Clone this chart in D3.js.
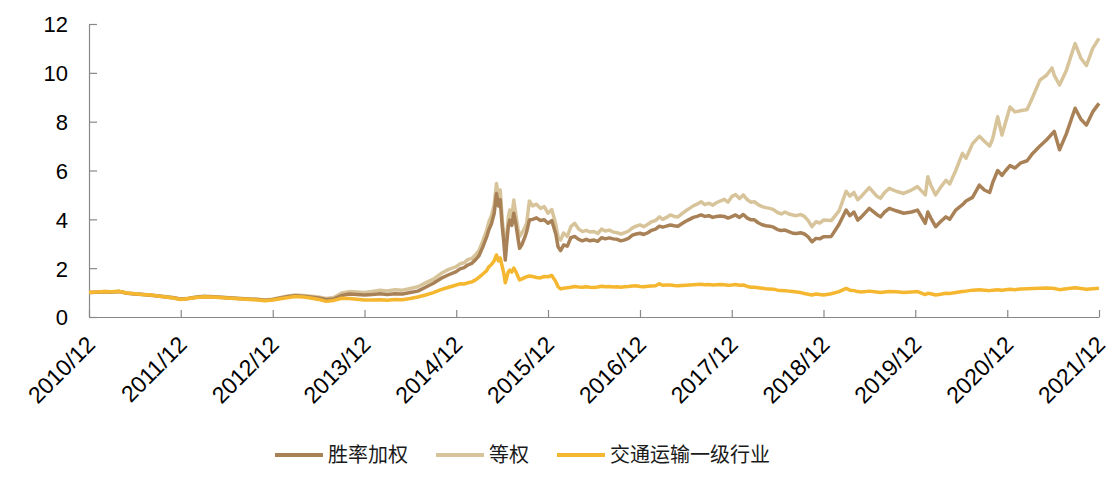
<!DOCTYPE html>
<meta charset="utf-8">

<head>
  <title>胜率加权 / 等权 / 交通运输一级行业</title>
  <script src="https://cdn.jsdelivr.net/npm/d3@7"></script>
</head>

<style>
  body { margin: 0; background: #fff; }
  .axis text { font-family: "Liberation Sans", Arial, sans-serif; font-size: 22px; fill: #000; }
  .x-axis text { font-size: 23px; }
  .legend text { font-family: "Noto Sans CJK SC", sans-serif; font-size: 20px; fill: #1a1a1a; }
</style>

<body>
  <svg width="1116" height="477"></svg>

  <script>
    // dates of the sampled points
    var dates = [
      '2010-12-01', '2011-01-01', '2011-02-01', '2011-03-01', '2011-04-01', '2011-05-01', '2011-06-01', '2011-07-01', '2011-08-01', '2011-09-01', '2011-10-01', '2011-11-01',
      '2011-12-01', '2012-01-01', '2012-02-01', '2012-03-01', '2012-04-01', '2012-05-01', '2012-06-01', '2012-07-01', '2012-08-01', '2012-09-01', '2012-10-01', '2012-11-01',
      '2012-12-01', '2013-01-01', '2013-02-01', '2013-03-01', '2013-04-01', '2013-05-01', '2013-06-01', '2013-07-01', '2013-08-01', '2013-09-01', '2013-10-01', '2013-11-01',
      '2013-12-01', '2014-01-01', '2014-02-01', '2014-03-01', '2014-04-01', '2014-05-01', '2014-06-01', '2014-07-01', '2014-08-01', '2014-09-01', '2014-10-01', '2014-11-01',
      '2014-12-01', '2014-12-16', '2015-01-01', '2015-01-16', '2015-02-01', '2015-02-16', '2015-03-01', '2015-03-16', '2015-04-01', '2015-04-10', '2015-04-20',
      '2015-05-01', '2015-05-10', '2015-05-18', '2015-05-25', '2015-06-02', '2015-06-08', '2015-06-14', '2015-06-20', '2015-06-26',
      '2015-07-02', '2015-07-10', '2015-07-18', '2015-07-26', '2015-08-04', '2015-08-10', '2015-08-20', '2015-09-01', '2015-09-07', '2015-09-18',
      '2015-10-01', '2015-10-16', '2015-11-01', '2015-11-16', '2015-12-01', '2015-12-16', '2016-01-01', '2016-01-10', '2016-01-20',
      '2016-02-01', '2016-02-16', '2016-03-01', '2016-03-16', '2016-04-01', '2016-04-16',
      '2016-05-01', '2016-05-16', '2016-06-01', '2016-06-16', '2016-07-01', '2016-07-16', '2016-08-01', '2016-08-16', '2016-09-01', '2016-09-16', '2016-10-01', '2016-10-16', '2016-11-01', '2016-11-16',
      '2016-12-01', '2016-12-16', '2017-01-01', '2017-01-16', '2017-02-01', '2017-02-16', '2017-03-01', '2017-03-16', '2017-04-01', '2017-04-16', '2017-05-01', '2017-05-16',
      '2017-06-01', '2017-06-16', '2017-07-01', '2017-07-16', '2017-08-01', '2017-08-16', '2017-09-01', '2017-09-16', '2017-10-01', '2017-10-16', '2017-11-01', '2017-11-16',
      '2017-12-01', '2017-12-16', '2018-01-01', '2018-01-16', '2018-02-01', '2018-02-16', '2018-03-01', '2018-03-16', '2018-04-01', '2018-04-16', '2018-05-01', '2018-05-16',
      '2018-06-01', '2018-06-16', '2018-07-01', '2018-07-16', '2018-08-01', '2018-08-16', '2018-09-01', '2018-09-16', '2018-10-01', '2018-10-16', '2018-11-01', '2018-11-16',
      '2018-12-01', '2019-01-01', '2019-02-01', '2019-03-01', '2019-03-16', '2019-04-01', '2019-04-16', '2019-05-01', '2019-06-01', '2019-07-01', '2019-07-16', '2019-08-01',
      '2019-08-20', '2019-09-16', '2019-10-16', '2019-11-16', '2019-12-10', '2020-01-10', '2020-01-20', '2020-02-01', '2020-02-20', '2020-03-10', '2020-04-01', '2020-04-16',
      '2020-05-10', '2020-06-06', '2020-06-20', '2020-07-16', '2020-08-12', '2020-09-01', '2020-09-22', '2020-10-04', '2020-10-24', '2020-11-10', '2020-11-25',
      '2020-12-12', '2021-01-01', '2021-01-22', '2021-02-18', '2021-03-12', '2021-04-10', '2021-05-06', '2021-05-28', '2021-06-06', '2021-06-27', '2021-07-24',
      '2021-08-28', '2021-09-20', '2021-10-12', '2021-11-06', '2021-12-01'
    ];

    // 等权
    var equalWeight = [
      1.00, 1.02, 1.04, 1.02, 1.05, 0.98, 0.95, 0.93, 0.90, 0.87, 0.84, 0.80,
      0.74, 0.77, 0.82, 0.85, 0.84, 0.82, 0.80, 0.78, 0.76, 0.74, 0.73, 0.70,
      0.73, 0.80, 0.86, 0.90, 0.88, 0.85, 0.82, 0.76, 0.80, 0.98, 1.04, 1.02,
      1.00, 1.05, 1.10, 1.07, 1.12, 1.10, 1.17, 1.24, 1.40, 1.55, 1.78, 1.95,
      2.06, 2.18, 2.22, 2.35, 2.40, 2.55, 2.72, 3.10, 3.55, 3.90, 4.15,
      4.60, 5.47, 4.90, 5.20, 3.97, 3.40, 2.47, 3.30, 4.10,
      4.38, 4.10, 4.79, 4.20, 3.60, 3.29, 3.45, 3.70, 3.84, 4.75,
      4.55, 4.62, 4.45, 4.52, 4.25, 4.40, 3.80, 3.29, 3.15,
      3.44, 3.30, 3.70, 3.84, 3.60, 3.50,
      3.55, 3.48, 3.50, 3.42, 3.60, 3.52, 3.56, 3.48, 3.45, 3.40, 3.45, 3.52, 3.65, 3.72,
      3.77, 3.70, 3.80, 3.90, 3.95, 4.10, 4.00, 4.08, 4.18, 4.12, 4.10, 4.22,
      4.35, 4.45, 4.55, 4.62, 4.72, 4.60, 4.66, 4.58, 4.68, 4.75, 4.82, 4.70,
      4.93, 5.02, 4.85, 5.00, 4.80, 4.70, 4.72, 4.60, 4.52, 4.48, 4.45, 4.40,
      4.28, 4.22, 4.30, 4.22, 4.18, 4.15, 4.20, 4.12, 3.95, 3.70, 3.90, 3.85,
      3.97, 3.95, 4.35, 5.15, 4.95, 5.10, 4.80, 4.95, 5.30, 4.95, 4.86, 5.10,
      5.27, 5.15, 5.06, 5.20, 5.34, 5.00, 5.74, 5.40, 5.00, 5.30, 5.60, 5.45,
      6.00, 6.70, 6.50, 7.10, 7.40, 7.20, 7.00, 7.30, 8.20, 7.45, 8.00,
      8.60, 8.40, 8.45, 8.50, 9.00, 9.70, 9.90, 10.20, 9.90, 9.50, 10.10,
      11.20, 10.60, 10.30, 11.00, 11.41
    ];

    // 胜率加权
    var winRateWeight = [
      1.00, 1.01, 1.03, 1.02, 1.04, 0.97, 0.94, 0.92, 0.89, 0.86, 0.82, 0.79,
      0.73, 0.76, 0.81, 0.84, 0.83, 0.81, 0.79, 0.77, 0.75, 0.73, 0.72, 0.69,
      0.72, 0.78, 0.84, 0.87, 0.85, 0.82, 0.78, 0.72, 0.74, 0.88, 0.94, 0.92,
      0.90, 0.92, 0.95, 0.92, 0.95, 0.94, 1.00, 1.06, 1.22, 1.38, 1.58, 1.73,
      1.86, 1.97, 2.02, 2.13, 2.20, 2.35, 2.50, 2.85, 3.28, 3.58, 3.82,
      4.25, 5.06, 4.55, 4.80, 3.70, 3.10, 2.33, 3.05, 3.70,
      3.97, 3.75, 4.25, 3.82, 3.20, 2.81, 2.98, 3.30, 3.49, 3.97,
      4.00, 4.06, 3.95, 3.98, 3.84, 3.95, 3.40, 2.88, 2.72,
      2.95, 2.90, 3.25, 3.30, 3.18, 3.12,
      3.18, 3.12, 3.15, 3.10, 3.25, 3.20, 3.24, 3.20, 3.18, 3.12, 3.16, 3.22, 3.35, 3.40,
      3.43, 3.38, 3.45, 3.55, 3.60, 3.72, 3.68, 3.72, 3.77, 3.74, 3.72, 3.82,
      3.92, 4.00, 4.08, 4.12, 4.18, 4.12, 4.15, 4.08, 4.12, 4.14, 4.12, 4.05,
      4.11, 4.18, 4.08, 4.20, 4.05, 3.98, 3.98, 3.86, 3.78, 3.74, 3.72, 3.68,
      3.58, 3.54, 3.56, 3.50, 3.43, 3.42, 3.45, 3.40, 3.28, 3.08, 3.22, 3.20,
      3.29, 3.30, 3.80, 4.38, 4.15, 4.30, 3.97, 4.10, 4.45, 4.20, 4.10, 4.30,
      4.45, 4.35, 4.25, 4.30, 4.38, 3.84, 4.30, 4.05, 3.70, 3.90, 4.10, 4.00,
      4.38, 4.60, 4.75, 4.90, 5.40, 5.20, 5.10, 5.50, 6.00, 5.80, 6.00,
      6.20, 6.10, 6.30, 6.40, 6.70, 7.00, 7.25, 7.50, 7.60, 6.85, 7.50,
      8.55, 8.10, 7.86, 8.40, 8.75
    ];

    // 交通运输一级行业
    var transport = [
      1.00, 1.02, 1.04, 1.03, 1.05, 0.98, 0.95, 0.92, 0.90, 0.86, 0.82, 0.78,
      0.72, 0.76, 0.80, 0.83, 0.82, 0.80, 0.78, 0.76, 0.74, 0.72, 0.70, 0.67,
      0.70, 0.75, 0.80, 0.84, 0.82, 0.78, 0.72, 0.64, 0.68, 0.77, 0.76, 0.73,
      0.70, 0.70, 0.71, 0.69, 0.72, 0.71, 0.76, 0.82, 0.90, 1.00, 1.12, 1.22,
      1.31, 1.36, 1.35, 1.40, 1.44, 1.52, 1.62, 1.75, 1.90, 2.06, 2.15,
      2.30, 2.54, 2.30, 2.42, 2.06, 1.80, 1.40, 1.62, 1.85,
      1.92, 1.84, 2.00, 1.86, 1.65, 1.52, 1.56, 1.62, 1.65, 1.68,
      1.66, 1.62, 1.60, 1.66, 1.65, 1.70, 1.45, 1.24, 1.15,
      1.18, 1.20, 1.22, 1.25, 1.23, 1.22,
      1.24, 1.22, 1.21, 1.23, 1.26, 1.24, 1.25, 1.23, 1.24, 1.22, 1.24, 1.25, 1.27, 1.28,
      1.25, 1.24, 1.26, 1.27, 1.28, 1.36, 1.30, 1.31, 1.31, 1.29, 1.28, 1.29,
      1.30, 1.31, 1.32, 1.33, 1.34, 1.32, 1.33, 1.31, 1.32, 1.33, 1.32, 1.30,
      1.31, 1.33, 1.30, 1.31, 1.25, 1.22, 1.22, 1.20, 1.18, 1.16, 1.15, 1.14,
      1.10, 1.09, 1.08, 1.06, 1.04, 1.02, 1.00, 0.96, 0.93, 0.90, 0.94, 0.92,
      0.90, 0.95, 1.04, 1.17, 1.10, 1.08, 1.04, 1.02, 1.06, 1.02, 1.00, 1.02,
      1.04, 1.03, 1.00, 1.02, 1.04, 0.92, 0.97, 0.95, 0.90, 0.93, 0.97, 0.96,
      1.00, 1.04, 1.06, 1.10, 1.12, 1.10, 1.08, 1.10, 1.12, 1.10, 1.12,
      1.14, 1.12, 1.15, 1.16, 1.17, 1.18, 1.19, 1.18, 1.17, 1.12, 1.16,
      1.20, 1.17, 1.14, 1.16, 1.18
    ];

    var seriesNames = ['胜率加权', '等权', '交通运输一级行业'];
    var colors = ['#a98157', '#d8c49a', '#f5b730'];
    var yTicks = [0, 2, 4, 6, 8, 10, 12];
    var xTickDates = ['2010-12-01', '2011-12-01', '2012-12-01', '2013-12-01', '2014-12-01', '2015-12-01',
      '2016-12-01', '2017-12-01', '2018-12-01', '2019-12-01', '2020-12-01', '2021-12-01'];

    var parse = d3.timeParse('%Y-%m-%d');
    var svg = d3.select('svg');

    var xScale = d3.scaleTime()
      .domain([parse(xTickDates[0]), parse(xTickDates[xTickDates.length - 1])])
      .range([89, 1099]);
    var yScale = d3.scaleLinear().domain([0, 12]).range([317, 24]);

    // axes
    var xAxis = svg.append('g')
      .attr('class', 'axis x-axis')
      .attr('transform', 'translate(0, 317)')
      .call(d3.axisBottom(xScale)
        .tickValues(xTickDates.map(parse))
        .tickSize(-7)
        .tickSizeOuter(0)
        .tickFormat(d3.timeFormat('%Y/%m')));
    xAxis.selectAll('.tick text')
      .attr('y', 0)
      .attr('dy', 0)
      .attr('text-anchor', 'end')
      .attr('transform', 'translate(7, 29) rotate(-45)');

    var yAxis = svg.append('g')
      .attr('class', 'axis')
      .attr('transform', 'translate(89, 0)')
      .call(d3.axisLeft(yScale)
        .tickValues(yTicks)
        .tickSize(-8)
        .tickSizeOuter(0)
        .tickPadding(21));
    yAxis.selectAll('.tick text').attr('dy', '0.36em');

    svg.selectAll('.axis path, .axis line')
      .attr('stroke', '#888')
      .attr('stroke-width', 1.2);

    // lines, drawn tan first so the gold line sits on top
    var valuesByName = {
      '胜率加权': winRateWeight,
      '等权': equalWeight,
      '交通运输一级行业': transport
    };
    var drawOrder = [1, 0, 2];

    var lineGenerator = d3.line()
      .x(function (d) { return xScale(d.date); })
      .y(function (d) { return yScale(d.value); });

    svg.append('g')
      .selectAll('path')
      .data(drawOrder)
      .enter()
      .append('path')
      .attr('fill', 'none')
      .attr('stroke', function (i) { return colors[i]; })
      .attr('stroke-width', 3.5)
      .attr('stroke-linejoin', 'round')
      .attr('d', function (i) {
        var vals = valuesByName[seriesNames[i]];
        return lineGenerator(dates.map(function (s, k) {
          return { date: parse(s), value: vals[k] };
        }));
      });

    // legend
    var legend = svg.append('g').attr('class', 'legend');
    var lx = 275;
    seriesNames.forEach(function (name, i) {
      var item = legend.append('g').attr('transform', 'translate(' + lx + ', 455)');
      item.append('line')
        .attr('x1', 0).attr('x2', 48)
        .attr('stroke', colors[i])
        .attr('stroke-width', 4);
      var t = item.append('text')
        .attr('x', 53)
        .attr('dy', '0.35em')
        .text(name);
      lx += 53 + t.node().getComputedTextLength() + 28;
    });
  </script>
</body>

</html>
